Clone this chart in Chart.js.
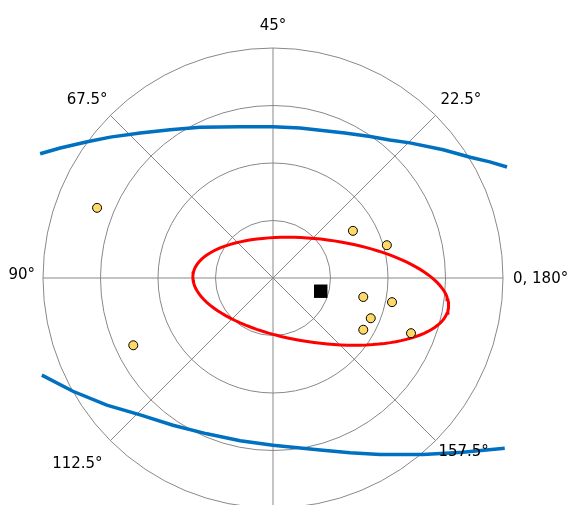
<!DOCTYPE html>
<html>
<head>
<meta charset="utf-8">
<script src="https://cdn.jsdelivr.net/npm/chart.js@4.4.1/dist/chart.umd.min.js"></script>
<style>
  html, body { margin: 0; padding: 0; background: #ffffff; }
  #wrap { width: 569px; height: 505px; }
</style>
</head>
<body>
<div id="wrap"><canvas id="c" width="569" height="505"></canvas></div>
<script>
// ---- data (units: one grid ring = 1) ----
const ringRadii = [1, 2, 3, 4];
const spokeAngles = [0, 45, 90, 135, 180, 225, 270, 315];
const angleLabels = ['0, 180°', '22.5°', '45°', '67.5°', '90°', '112.5°', '135°', '157.5°'];

const obsX = [1.39, 1.98, 1.57, 2.07, 1.70, 1.57, 2.40, -3.06, -2.43];
const obsY = [0.82, 0.57, -0.33, -0.42, -0.70, -0.90, -0.96, 1.22, -1.17];

const meanX = [0.83];
const meanY = [-0.23];

// confidence ellipse: centre x, centre y, semi-major, semi-minor, rotation (deg)
const ellipseParams = [0.83, -0.23, 2.24, 0.90, -7.5];

const upperX = [-4.05, -3.70, -3.23, -2.83, -2.31, -1.79, -1.27, -0.57, 0.00, 0.47, 0.82, 1.25, 1.69, 2.03, 2.38, 2.96, 3.43, 3.77, 4.07];
const upperY = [2.16, 2.26, 2.37, 2.45, 2.52, 2.58, 2.62, 2.63, 2.63, 2.61, 2.57, 2.52, 2.46, 2.40, 2.35, 2.23, 2.10, 2.02, 1.93];

const lowerX = [-4.02, -3.48, -2.89, -2.31, -1.74, -1.15, -0.57, 0.00, 0.30, 0.82, 1.34, 1.86, 2.61, 3.30, 4.03];
const lowerY = [-1.69, -1.97, -2.21, -2.38, -2.56, -2.71, -2.83, -2.91, -2.94, -2.99, -3.04, -3.07, -3.07, -3.03, -2.96];

// ---- styling: small pixel nudges for the angle labels ----
const labelNudge = [[-1, 1], [-3, -4], [0, -7], [5, -4], [3, -3], [0, 8], [0, 0], [-5, -4]];

// ---- build datasets ----
const zip = (xs, ys) => xs.map((x, i) => ({ x: x, y: ys[i] }));
function ellipsePoints(p) {
  const [cx, cy, a, b, rotDeg] = p;
  const t = rotDeg * Math.PI / 180;
  const pts = [];
  for (let k = 0; k <= 120; k++) {
    const u = k / 120 * 2 * Math.PI;
    const ex = a * Math.cos(u), ey = b * Math.sin(u);
    pts.push({ x: cx + ex * Math.cos(t) - ey * Math.sin(t), y: cy + ex * Math.sin(t) + ey * Math.cos(t) });
  }
  return pts;
}

const polarGrid = {
  id: 'polarGrid',
  beforeDatasetsDraw(chart) {
    const { ctx, scales: { x, y } } = chart;
    const cx = x.getPixelForValue(0), cy = y.getPixelForValue(0);
    const unit = x.getPixelForValue(1) - cx;
    const rMax = ringRadii[ringRadii.length - 1] * unit;
    ctx.save();
    ctx.strokeStyle = '#888888';
    ctx.lineWidth = 1;
    ringRadii.forEach(r => {
      ctx.beginPath();
      ctx.arc(cx, cy, r * unit, 0, 2 * Math.PI);
      ctx.stroke();
    });
    spokeAngles.forEach(a => {
      const t = a * Math.PI / 180;
      ctx.beginPath();
      ctx.moveTo(cx, cy);
      ctx.lineTo(cx + rMax * Math.cos(t), cy - rMax * Math.sin(t));
      ctx.stroke();
    });
    ctx.restore();
  },
  afterDraw(chart) {
    const { ctx, scales: { x, y } } = chart;
    const cx = x.getPixelForValue(0), cy = y.getPixelForValue(0);
    const unit = x.getPixelForValue(1) - cx;
    const rl = ringRadii[ringRadii.length - 1] * unit + 11;
    ctx.save();
    ctx.fillStyle = '#000000';
    ctx.font = '15px "DejaVu Sans", Verdana, sans-serif';
    spokeAngles.forEach((a, i) => {
      const t = a * Math.PI / 180;
      const c = Math.cos(t), s = Math.sin(t);
      const px = cx + rl * c + labelNudge[i][0], py = cy - rl * s + labelNudge[i][1];
      ctx.textAlign = c > 0.1 ? 'left' : (c < -0.1 ? 'right' : 'center');
      ctx.textBaseline = s > 0.1 ? 'alphabetic' : (s < -0.1 ? 'top' : 'middle');
      ctx.fillText(angleLabels[i], px, py);
    });
    ctx.restore();
  }
};

const unitPx = 57.5;
new Chart(document.getElementById('c'), {
  type: 'scatter',
  data: {
    datasets: [
      { label: 'mean', data: zip(meanX, meanY), pointStyle: 'rect', pointRadius: 9.5, backgroundColor: '#000000', borderColor: '#000000', borderWidth: 0 },
      { label: 'obs', data: zip(obsX, obsY), pointStyle: 'circle', pointRadius: 4.5, backgroundColor: '#ffd966', borderColor: '#000000', borderWidth: 1 },
      { label: 'ellipse', data: ellipsePoints(ellipseParams), showLine: true, pointRadius: 0, borderColor: '#ff0000', borderWidth: 3, fill: false },
      { label: 'upper', data: zip(upperX, upperY), showLine: true, pointRadius: 0, borderColor: '#0070c0', borderWidth: 3.5, fill: false },
      { label: 'lower', data: zip(lowerX, lowerY), showLine: true, pointRadius: 0, borderColor: '#0070c0', borderWidth: 3.5, fill: false }
    ]
  },
  options: {
    responsive: false,
    animation: false,
    layout: { padding: 0, autoPadding: false },
    plugins: { legend: { display: false }, tooltip: { enabled: false }, title: { display: false } },
    scales: {
      x: { type: 'linear', display: false, min: -273 / unitPx, max: 296 / unitPx },
      y: { type: 'linear', display: false, min: -227 / unitPx, max: 278 / unitPx }
    }
  },
  plugins: [polarGrid]
});
</script>
</body>
</html>
